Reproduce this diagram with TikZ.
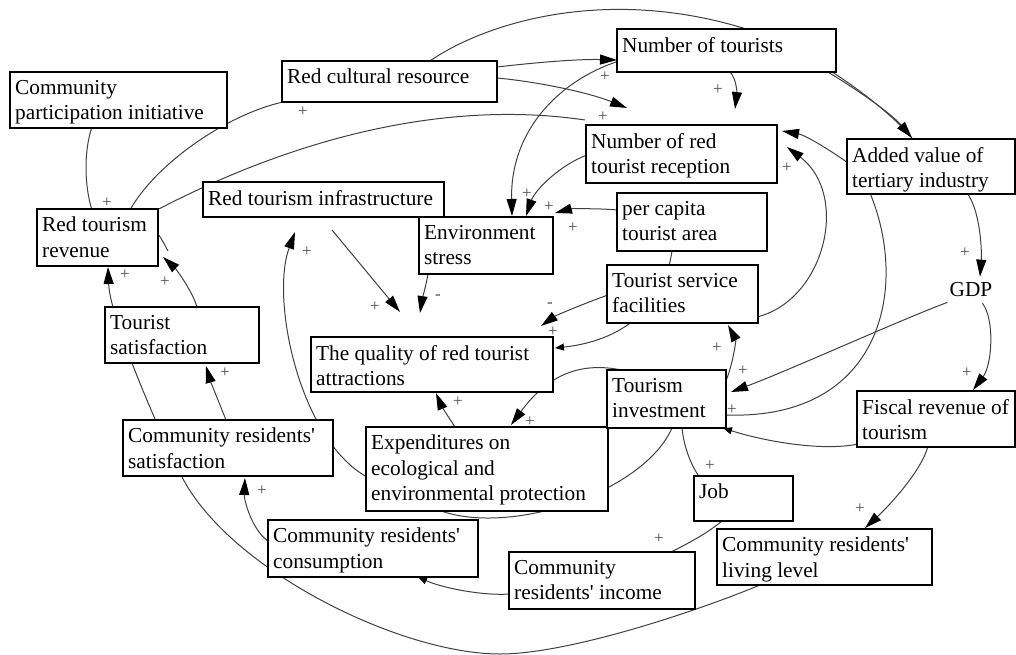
\documentclass[tikz,border=0pt]{standalone}
\usepackage{fontspec}
\setmainfont{Liberation Serif}
\usetikzlibrary{arrows.meta,backgrounds}
\newcommand{\vfont}{\fontsize{21.3}{25.3}\selectfont}
\newcommand{\sgnfont}{\fontsize{17}{17}\selectfont}
\newcommand{\ap}{\textquotesingle{}}

\begin{document}
\begin{tikzpicture}[x=1pt,y=-1pt,
  var/.style={draw,line width=1.6pt,fill=white,anchor=north west,inner sep=0pt,outer sep=0pt},
  txt/.style={anchor=north west,inner sep=0pt,xshift=5pt,yshift=-8pt,align=left,font=\vfont},
  sgn/.style={inner sep=0pt,font=\sgnfont,text=black!70},
  lnk/.style={draw=black!75,line width=1pt},
  arr/.style={lnk,-{Triangle[length=17pt,width=10pt,color=black]}},
  arrs/.style={lnk,-{Triangle[length=9pt,width=7pt,color=black]}}]
   \useasboundingbox (0,0) rectangle (1016,655);

   \node[var,minimum width=217pt,minimum height=56pt,label={[txt]north west:{Community\\participation initiative}}] at (10,72) (cpi) {};
   \node[var,minimum width=215pt,minimum height=41pt,label={[txt]north west:{Red cultural resource}}] at (282,61) (rcr) {};
   \node[var,minimum width=121pt,minimum height=57pt,label={[txt]north west:{Red tourism\\revenue}}] at (37,209) (rtr) {};
   \node[var,minimum width=241pt,minimum height=35pt,label={[txt]north west:{Red tourism infrastructure}}] at (203,182) (rti) {};
   \node[var,minimum width=134pt,minimum height=57pt,label={[txt]north west:{Environment\\stress}}] at (419,217) (es) {};
   \node[var,minimum width=154pt,minimum height=56pt,label={[txt]north west:{Tourist\\satisfaction}}] at (105,307) (ts) {};
   \node[var,minimum width=219pt,minimum height=43pt,label={[txt]north west:{Number of tourists}}] at (617,29) (nt) {};
   \node[var,minimum width=191pt,minimum height=58pt,label={[txt]north west:{Number of red\\tourist reception}}] at (586,125) (nrtr) {};
   \node[var,minimum width=168pt,minimum height=55pt,label={[txt]north west:{Added value of\\tertiary industry}}] at (847,139) (av) {};
   \node[var,minimum width=150pt,minimum height=58pt,label={[txt]north west:{per capita\\tourist area}}] at (617,193) (pcta) {};
   \node[var,minimum width=151pt,minimum height=58pt,label={[txt]north west:{Tourist service\\facilities}}] at (607,265) (tsf) {};
   \node[inner sep=0pt,font=\vfont] at (971,290) (gdp) {GDP};
   \node[var,minimum width=242pt,minimum height=55pt,label={[txt]north west:{The quality of red tourist\\attractions}}] at (311,337) (qrta) {};
   \node[var,minimum width=242pt,minimum height=84pt,label={[txt]north west:{Expenditures on\\ecological and\\environmental protection}}] at (366,427) (eep) {};
   \node[var,minimum width=119pt,minimum height=58pt,label={[txt]north west:{Tourism\\investment}}] at (607,370) (ti) {};
   \node[var,minimum width=210pt,minimum height=56pt,label={[txt]north west:{Community residents\ap\\satisfaction}}] at (123,420) (crs) {};
   \node[var,minimum width=210pt,minimum height=57pt,label={[txt]north west:{Community residents\ap\\consumption}}] at (268,520) (crc) {};
   \node[var,minimum width=186pt,minimum height=57pt,label={[txt]north west:{Community\\residents\ap{} income}}] at (509,552) (cri) {};
   \node[var,minimum width=158pt,minimum height=56pt,label={[txt]north west:{Fiscal revenue of\\tourism}}] at (857,391) (frt) {};
   \node[var,minimum width=99pt,minimum height=45pt,label={[txt]north west:{Job}}] at (694,476) (job) {};
   \node[var,minimum width=215pt,minimum height=56pt,label={[txt]north west:{Community residents\ap\\living level}}] at (717,529) (crll) {};

   \begin{scope}[on background layer]
      % upper part
      \draw[lnk] ([shift={(145,2)}]rcr.north west) .. controls (480,25) and (600,-15) .. (743,28)
         .. controls (800,45) and (880,100) .. ([shift={(65,-1)}]av.north west);
      \draw[arr] ([shift={(0,6)}]rcr.north east) .. controls (540,62) and (580,59) .. ([shift={(0,31)}]nt.north west);
      \draw[arr] ([shift={(0,17)}]rcr.north east) .. controls (540,82) and (590,93) .. ([shift={(41,-17)}]nrtr.north west);
      \draw[lnk] ([shift={(-3,2)}]rtr.north east) .. controls (300,135) and (450,100) .. ([shift={(-1,-5)}]nrtr.north west);
      \draw[lnk] ([shift={(93,1)}]rtr.north west) .. controls (155,165) and (225,115) .. ([shift={(1,0)}]rcr.south west);
      \draw[lnk] ([shift={(82,-1)}]cpi.south west) .. controls (84,150) and (84,185) .. ([shift={(55,1)}]rtr.north west);
      \draw[lnk] ([shift={(-8,17)}]rtr.north east) .. controls (160,234) and (163,242) .. ([shift={(10,42)}]rtr.north east);
      \draw[arr] ([shift={(2,32)}]nt.north west) .. controls (560,80) and (510,130) .. ([shift={(93,-1)}]es.north west);
      \draw[arr] ([shift={(1,30)}]nrtr.north west) .. controls (560,165) and (535,190) .. ([shift={(107,-1)}]es.north west);
      \draw[arr] ([shift={(1,17)}]pcta.north west) .. controls (595,208) and (570,209) .. ([shift={(2,-4)}]es.north east);
      \draw[arr] ([shift={(113,0)}]nt.south west) .. controls (736,78) and (737,92) .. ([shift={(149,-16)}]nrtr.north west);
      \draw[arr] ([shift={(-10,-1)}]nt.south east) .. controls (850,85) and (890,112) .. ([shift={(65,-1)}]av.north west);
      \draw[arr] ([shift={(1,24)}]av.north west) .. controls (830,150) and (805,135) .. ([shift={(5,6)}]nrtr.north east);
      \draw[arr] ([shift={(-1,-6)}]tsf.south east) .. controls (825,300) and (850,195) .. ([shift={(10,22)}]nrtr.north east);
      \draw[arr] ([shift={(120,-1)}]av.south west) .. controls (980,210) and (982,250) .. ([shift={(9,-6)}]gdp.north);
      % middle part
      \draw[arr] ([shift={(-2,5)}]gdp.south west) .. controls (900,320) and (790,370) .. ([shift={(5,22)}]ti.north east);
      \draw[arr] ([shift={(-10,6)}]gdp.south east) .. controls (995,320) and (992,365) .. ([shift={(116,-1)}]frt.north west);
      \draw[lnk] ([shift={(23,-1)}]av.south west) .. controls (910,290) and (880,420) .. ([shift={(1,-13)}]ti.south east);
      \draw[arrs] ([shift={(1,-3)}]frt.south west) .. controls (820,452) and (760,440) .. ([shift={(-3,0)}]ti.south east);
      \draw[arr] ([shift={(-1,13)}]ti.north east) .. controls (733,365) and (736,340) .. ([shift={(-30,2)}]tsf.south east);
      \draw[arr] ([shift={(23,2)}]ti.north west) .. controls (585,360) and (550,372) .. ([shift={(145,-2)}]eep.north west);
      \draw[arr] ([shift={(1,30)}]tsf.north west) .. controls (580,305) and (555,316) .. ([shift={(-12,-11)}]qrta.north east);
      \draw[arrs] ([shift={(55,0)}]pcta.south west) .. controls (665,300) and (630,340) .. ([shift={(2,11)}]qrta.north east);
      \draw[arr] ([shift={(129,13)}]rti.south west) -- ([shift={(89,-25)}]qrta.north west);
      \draw[arr] ([shift={(9,0)}]es.south west) .. controls (425,290) and (422,300) .. ([shift={(109,-24)}]qrta.north west);
      \draw[arr] ([shift={(1,50)}]eep.north west) .. controls (300,440) and (270,300) .. ([shift={(92,15)}]rti.south west);
      \draw[arr] ([shift={(89,0)}]eep.north west) .. controls (447,415) and (441,405) .. ([shift={(125,1)}]qrta.south west);
      % lower part
      \draw[lnk] ([shift={(65,0)}]ti.south west) .. controls (640,500) and (480,545) .. ([shift={(54,-11)}]eep.south west);
      \draw[lnk] ([shift={(75,0)}]ti.south west) .. controls (684,448) and (692,468) .. ([shift={(7,3)}]job.north west);
      \draw[lnk] ([shift={(28,0)}]job.south west) .. controls (705,535) and (685,545) .. ([shift={(156,3)}]cri.north west);
      \draw[arrs] ([shift={(1,-15)}]cri.south west) .. controls (480,596) and (440,587) .. ([shift={(150,0)}]crc.south west);
      \draw[arr] ([shift={(0,21)}]crc.north west) .. controls (252,530) and (244,500) .. ([shift={(122,2)}]crs.south west);
      \draw[arr] ([shift={(103,0)}]crs.north west) .. controls (218,400) and (210,380) .. ([shift={(101,3)}]ts.south west);
      \draw[arr] ([shift={(92,0)}]ts.north west) .. controls (192,290) and (175,268) .. ([shift={(5,-9)}]rtr.south east);
      \draw[arr] ([shift={(71,-1)}]frt.south west) .. controls (922,470) and (890,505) .. ([shift={(148,-1)}]crll.north west);
      \draw[arr] ([shift={(43,0)}]crll.south west) .. controls (700,610) and (570,654) .. (500,654)
         .. controls (400,654) and (230,570) .. (182,477)
         .. controls (163,440) and (110,320) .. ([shift={(71,1)}]rtr.south west);
   \end{scope}

   % polarities
   \foreach \x/\y [count=\i] in {303/112,107/203,125/275,165/282,307/252,375/307,605/77,718/90,
      603/117,787/168,527/194,549/207,573/228,965/253,553/332,717/348,743/371,732/410,967/373,
      530/422,458/402,225/373,262/491,710/466,659/539,860/509}
      \node[sgn] at (\x,\y) (p\i) {+};
   \node[sgn] at (438,297) (m1) {-};
   \node[sgn] at (550,305) (m2) {-};
\end{tikzpicture}
\end{document}
